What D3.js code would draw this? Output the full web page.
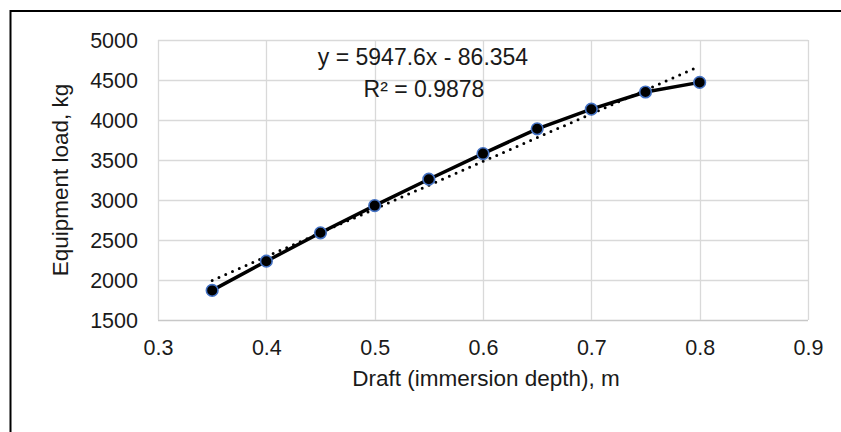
<!DOCTYPE html>
<html>
<head>
<meta charset="utf-8">
<script src="https://cdn.jsdelivr.net/npm/d3@7/dist/d3.min.js"></script>
<style>
  html, body { margin: 0; padding: 0; background: #fff; }
  svg { display: block; }
  text { font-family: "Liberation Sans", Arial, sans-serif; fill: #1a1a1a; }
</style>
</head>
<body>
<svg id="chart" width="841" height="432"></svg>
<script>
// ---- data ----
const drafts = [0.35, 0.40, 0.45, 0.50, 0.55, 0.60, 0.65, 0.70, 0.75, 0.80];
const loads  = [1870, 2235, 2590, 2930, 3260, 3580, 3890, 4135, 4350, 4470];
const xTicks = [0.3, 0.4, 0.5, 0.6, 0.7, 0.8, 0.9];
const yTicks = [1500, 2000, 2500, 3000, 3500, 4000, 4500, 5000];
const trendSlope = 5947.6;
const trendIntercept = -86.354;
const equationLabel = "y = 5947.6x - 86.354";
const r2Label = "R² = 0.9878";
const xTitle = "Draft (immersion depth), m";
const yTitle = "Equipment load, kg";

// ---- layout ----
const FONT = "'Liberation Sans', Arial, sans-serif";
const svg = d3.select("#chart");
const plot = { left: 158, right: 808, top: 40, bottom: 320 };

const x = d3.scaleLinear().domain([0.3, 0.9]).range([plot.left, plot.right]);
const y = d3.scaleLinear().domain([1500, 5000]).range([plot.bottom, plot.top]);

// outer frame
svg.append("rect")
  .attr("x", 10.5).attr("y", 11).attr("width", 900).attr("height", 500)
  .attr("fill", "none").attr("stroke", "#000").attr("stroke-width", 2);

// gridlines
const grid = svg.append("g");
grid.selectAll("line.h").data(yTicks).join("line")
  .attr("x1", plot.left).attr("x2", plot.right)
  .attr("y1", d => Math.round(y(d)) + 0.5).attr("y2", d => Math.round(y(d)) + 0.5)
  .attr("stroke", d => d === 1500 ? "#c8c8c8" : "#d9d9d9").attr("stroke-width", 1.3);
grid.selectAll("line.v").data(xTicks).join("line")
  .attr("y1", plot.top).attr("y2", plot.bottom)
  .attr("x1", d => Math.round(x(d)) + 0.5).attr("x2", d => Math.round(x(d)) + 0.5)
  .attr("stroke", "#d9d9d9").attr("stroke-width", 1.3);

// axes (labels only, via d3 axes)
const yAxis = svg.append("g")
  .attr("transform", `translate(${plot.left},0)`)
  .call(d3.axisLeft(y).tickValues(yTicks).tickSize(0).tickPadding(20).tickFormat(d3.format("d")));
yAxis.select(".domain").remove();
yAxis.selectAll("text").style("font-size", "21.5px").style("font-family", FONT).attr("fill", "#1a1a1a")
  .attr("dy", "0.36em");

const xAxis = svg.append("g")
  .attr("transform", `translate(0,${plot.bottom})`)
  .call(d3.axisBottom(x).tickValues(xTicks).tickSize(0).tickPadding(0).tickFormat(d3.format(".1f")));
xAxis.select(".domain").remove();
xAxis.selectAll("text").style("font-size", "21.5px").style("font-family", FONT).attr("fill", "#1a1a1a")
  .attr("y", 35).attr("dy", 0);

// axis titles
svg.append("text")
  .attr("x", (plot.left + plot.right) / 2 + 3).attr("y", 386)
  .attr("text-anchor", "middle").style("font-size", "22.5px")
  .text(xTitle);
svg.append("text")
  .attr("transform", `translate(68,${(plot.top + plot.bottom) / 2}) rotate(-90)`)
  .attr("text-anchor", "middle").style("font-size", "22.5px")
  .text(yTitle);

// series data
const pts = drafts.map((d, i) => ({ x: d, y: loads[i] }));

// series line
svg.append("path")
  .datum(pts)
  .attr("d", d3.line().x(d => x(d.x)).y(d => y(d.y)))
  .attr("fill", "none").attr("stroke", "#000").attr("stroke-width", 3.5)
  .attr("stroke-linejoin", "round");

// trendline (dotted)
const xMin = d3.min(drafts), xMax = d3.max(drafts);
const trend = [xMin, xMax].map(v => ({ x: v, y: trendSlope * v + trendIntercept }));
svg.append("path")
  .datum(trend)
  .attr("d", d3.line().x(d => x(d.x)).y(d => y(d.y)))
  .attr("fill", "none").attr("stroke", "#000").attr("stroke-width", 3)
  .attr("stroke-linecap", "round").attr("stroke-dasharray", "0 7.4");

// markers
svg.append("g").selectAll("circle").data(pts).join("circle")
  .attr("cx", d => x(d.x)).attr("cy", d => y(d.y)).attr("r", 5.8)
  .attr("fill", "#000").attr("stroke", "#4472C4").attr("stroke-width", 1.6);

// trendline equation label
svg.append("text")
  .attr("x", 423).attr("y", 65).attr("text-anchor", "middle")
  .style("font-size", "23px").text(equationLabel);
svg.append("text")
  .attr("x", 424).attr("y", 96.5).attr("text-anchor", "middle")
  .style("font-size", "23px").text(r2Label);
</script>
</body>
</html>
